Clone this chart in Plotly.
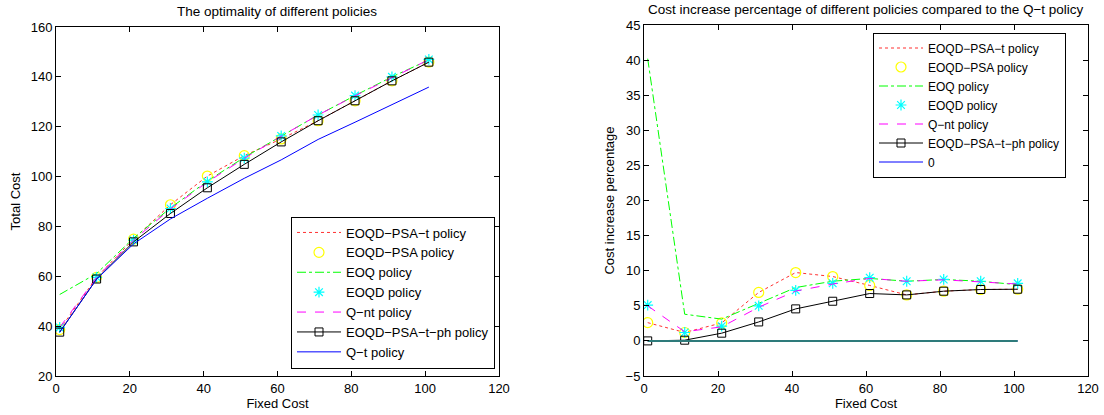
import plotly.graph_objects as go

# ---------------- data ----------------
fixed_cost = [1, 11, 21, 31, 41, 51, 61, 71, 81, 91, 101]

# left panel: total cost
tc_psa_t   = [38.6, 59.6, 74.9, 88.7, 100.2, 108.4, 115.1, 122.4, 130.4, 138.4, 145.9]
tc_psa     = [38.6, 59.6, 74.9, 88.7, 100.2, 108.4, 115.1, 122.4, 130.4, 138.4, 145.9]
tc_eoq     = [52.7, 61.1, 75.3, 87.4, 98.2, 107.7, 116.2, 124.7, 132.5, 140.0, 146.8]
tc_eoqd    = [39.5, 59.6, 74.5, 87.2, 97.9, 107.4, 116.3, 124.7, 132.5, 140.0, 147.0]
tc_qnt     = [39.5, 59.6, 74.5, 87.0, 97.8, 107.3, 116.2, 124.7, 132.4, 139.8, 146.9]
tc_psa_tph = [37.6, 58.9, 73.8, 85.2, 95.5, 104.9, 113.9, 122.4, 130.4, 138.4, 145.9]
tc_qt      = [37.6, 58.85, 73.0, 83.0, 91.3, 99.3, 106.7, 114.9, 121.8, 129.0, 135.9]

# right panel: cost increase percentage vs Q-t
pc_psa_t   = [2.6, 1.2, 2.56, 6.9, 9.74, 9.17, 7.9, 6.55, 7.08, 7.32, 7.36]
pc_psa     = [2.6, 1.2, 2.56, 6.9, 9.74, 9.17, 7.9, 6.55, 7.08, 7.32, 7.36]
pc_eoq     = [40.2, 3.8, 3.1, 5.3, 7.6, 8.5, 8.9, 8.5, 8.75, 8.5, 8.0]
pc_eoqd    = [5.1, 1.2, 2.1, 5.0, 7.2, 8.2, 9.0, 8.5, 8.75, 8.5, 8.2]
pc_qnt     = [5.0, 1.3, 2.0, 4.8, 7.1, 8.1, 8.9, 8.5, 8.7, 8.4, 8.1]
pc_psa_tph = [0.0, 0.1, 1.1, 2.7, 4.56, 5.65, 6.75, 6.55, 7.08, 7.32, 7.36]
pc_zero    = [0, 0, 0, 0, 0, 0, 0, 0, 0, 0, 0]

names = ["EOQD\u2212PSA\u2212t policy", "EOQD\u2212PSA policy", "EOQ policy",
         "EOQD policy", "Q\u2212nt policy", "EOQD\u2212PSA\u2212t\u2212ph policy"]

FONT = "Liberation Sans, Arial, Helvetica, sans-serif"
FS = 13

fig = go.Figure()

def add_series(ys, xa, ya, legend, last_name, last_y):
    fig.add_trace(go.Scatter(x=fixed_cost, y=ys[0], mode="lines", name=names[0],
                             line=dict(color="#ff3030", width=1, dash="dot"),
                             xaxis=xa, yaxis=ya, legend=legend))
    fig.add_trace(go.Scatter(x=fixed_cost, y=ys[1], mode="markers", name=names[1],
                             marker=dict(symbol="circle-open", size=10, color="#ffff00",
                                         line=dict(width=1.2, color="#ffff00")),
                             xaxis=xa, yaxis=ya, legend=legend))
    fig.add_trace(go.Scatter(x=fixed_cost, y=ys[2], mode="lines", name=names[2],
                             line=dict(color="#00ff00", width=1, dash="dashdot"),
                             xaxis=xa, yaxis=ya, legend=legend))
    fig.add_trace(go.Scatter(x=fixed_cost, y=ys[3], mode="markers", name=names[3],
                             marker=dict(symbol="asterisk-open", size=9, color="#00ffff",
                                         line=dict(width=1.2, color="#00ffff")),
                             xaxis=xa, yaxis=ya, legend=legend))
    fig.add_trace(go.Scatter(x=fixed_cost, y=ys[4], mode="lines", name=names[4],
                             line=dict(color="#ff00ff", width=1, dash="dash"),
                             xaxis=xa, yaxis=ya, legend=legend))
    fig.add_trace(go.Scatter(x=fixed_cost, y=ys[5], mode="lines+markers", name=names[5],
                             line=dict(color="black", width=1),
                             marker=dict(symbol="square-open", size=8, color="black",
                                         line=dict(width=1, color="black")),
                             xaxis=xa, yaxis=ya, legend=legend))
    fig.add_trace(go.Scatter(x=fixed_cost, y=last_y, mode="lines", name=last_name,
                             line=dict(color="#0000ff", width=1),
                             xaxis=xa, yaxis=ya, legend=legend))

add_series([tc_psa_t, tc_psa, tc_eoq, tc_eoqd, tc_qnt, tc_psa_tph], "x", "y", "legend",
           "Q\u2212t policy", tc_qt)
add_series([pc_psa_t, pc_psa, pc_eoq, pc_eoqd, pc_qnt, pc_psa_tph], "x2", "y2", "legend2",
           "0", pc_zero)
# teal overlay of the zero line (as it appears in the original)
fig.add_trace(go.Scatter(x=fixed_cost, y=pc_zero, mode="lines", showlegend=False,
                         line=dict(color="#2e7b7b", width=2), xaxis="x2", yaxis="y2"))

W, H = 1104, 415
def px(x): return x / W
def py(y): return 1 - y / H

axis_common = dict(showline=True, linecolor="black", linewidth=1, mirror="allticks",
                   ticks="inside", ticklen=5, tickcolor="black", showgrid=False,
                   zeroline=False, automargin=False,
                   tickfont=dict(family=FONT, size=FS, color="black"))
tfont = dict(family=FONT, size=FS, color="black")

fig.update_layout(
    width=W, height=H, margin=dict(l=0, r=0, t=0, b=0, autoexpand=False),
    paper_bgcolor="white", plot_bgcolor="white", hovermode=False,
    font=dict(family=FONT, size=FS, color="black"),
    xaxis=dict(domain=[px(56), px(499)], range=[0, 120], dtick=20, anchor="y",
               title=dict(text="Fixed Cost", standoff=4, font=tfont), **axis_common),
    yaxis=dict(domain=[py(376), py(27)], range=[20, 160], dtick=20, anchor="x",
               title=dict(text="Total Cost", standoff=7, font=tfont), **axis_common),
    xaxis2=dict(domain=[px(644), px(1088)], range=[0, 120], dtick=20, anchor="y2",
                title=dict(text="Fixed Cost", standoff=4, font=tfont), **axis_common),
    yaxis2=dict(domain=[py(376), py(25)], range=[-5, 45], dtick=5, anchor="x2",
                title=dict(text="Cost increase percentage", standoff=8, font=tfont),
                **axis_common),
    legend=dict(x=px(291), y=py(216.5), xanchor="left", yanchor="top",
                bgcolor="white", bordercolor="black", borderwidth=1,
                font=dict(family=FONT, size=13), itemwidth=44, tracegroupgap=0),
    legend2=dict(x=px(873), y=py(32.5), xanchor="left", yanchor="top",
                 bgcolor="white", bordercolor="black", borderwidth=1,
                 font=dict(family=FONT, size=12), itemwidth=44, tracegroupgap=0),
    annotations=[
        dict(text="The optimality of different policies", x=px(277), y=py(11),
             xref="paper", yref="paper", showarrow=False, xanchor="center", yanchor="middle",
             font=dict(family=FONT, size=13.5)),
        dict(text="Cost increase percentage of different policies compared to the Q\u2212t policy",
             x=px(866), y=py(10), xref="paper", yref="paper", showarrow=False,
             xanchor="center", yanchor="middle", font=dict(family=FONT, size=13.5)),
    ],
)

fig.write_html(
    "out.html",
    config={"displayModeBar": False, "staticPlot": True},
    post_script="document.body.style.margin='0';document.body.style.overflow='hidden';",
)
